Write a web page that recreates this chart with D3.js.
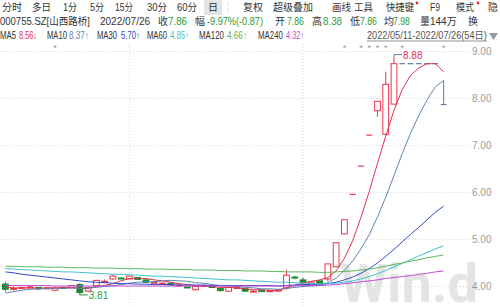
<!DOCTYPE html>
<html>
<head>
<meta charset="utf-8">
<script src="https://cdn.jsdelivr.net/npm/d3@7"></script>
<style>
  body { margin: 0; background: #fff; }
  svg { display: block; font-family: "Liberation Sans", "Noto Sans CJK SC", sans-serif; }
</style>
</head>
<body>
<svg id="chart" width="500" height="307"></svg>
<script>
// daily candles 2022/05/11 - 2022/07/26 (54 days)
const opens  = [4.04,3.94,3.95,3.97,3.97,3.95,3.91,3.96,3.96,4.03, 3.89,4.01,4.09,4.15,4.17,4.15,4.18,4.13,4.07,4.05,
                4.06,4.01,3.98,3.92,4.00,3.99,3.95,3.89,3.96,3.94, 3.88,3.91,3.89,3.89,3.96,4.19,4.13,4.06,4.11,4.15,
                4.41,5.11,5.95,6.55,7.21,7.73,7.23,7.87,8.73,8.73, 8.73,8.73,8.73,7.86];
const highs  = [4.09,3.99,3.98,4.01,3.98,3.98,3.97,3.99,4.02,4.06, 3.98,4.13,4.14,4.24,4.18,4.22,4.19,4.14,4.10,4.08,
                4.07,4.04,4.00,4.00,4.03,4.00,3.96,3.98,3.99,3.95, 3.91,3.92,3.91,3.93,4.34,4.22,4.18,4.10,4.12,4.47,
                4.92,5.41,5.95,6.55,7.21,7.93,8.56,8.88,8.73,8.73, 8.73,8.73,8.73,8.38];
const lows   = [3.88,3.90,3.94,3.96,3.91,3.94,3.90,3.95,3.95,3.81, 3.88,4.00,4.07,4.13,4.15,4.14,4.13,4.07,4.06,4.04,
                4.01,4.00,3.96,3.91,3.99,3.96,3.89,3.88,3.95,3.88, 3.87,3.87,3.88,3.88,3.92,4.14,4.07,4.05,4.05,4.10,
                4.40,5.10,5.95,6.55,7.21,7.60,7.20,7.87,8.73,8.73, 8.73,8.73,8.73,7.86];
const closes = [3.93,3.95,3.97,3.98,3.94,3.96,3.96,3.97,4.01,3.86, 3.97,4.12,4.10,4.21,4.16,4.21,4.14,4.08,4.08,4.06,
                4.02,4.02,3.97,3.99,4.01,3.97,3.90,3.97,3.97,3.89, 3.89,3.88,3.90,3.92,4.23,4.18,4.08,4.09,4.06,4.47,
                4.92,5.41,5.95,6.55,7.21,7.93,8.29,8.73,8.73,8.73, 8.73,8.73,8.73,7.86];

// moving averages
const ma5   = [3.97,3.96,3.96,3.96,3.95,3.96,3.96,3.96,3.97,3.95, 3.95,3.99,4.01,4.05,4.11,4.16,4.16,4.16,4.13,4.11,
               4.08,4.05,4.03,4.01,4.00,3.99,3.97,3.97,3.96,3.94, 3.92,3.92,3.91,3.90,3.96,4.02,4.06,4.10,4.13,4.18,
               4.32,4.59,4.96,5.46,6.01,6.61,7.19,7.74,8.18,8.48, 8.64,8.73,8.73,8.56];
const ma10  = [3.85,3.88,3.91,3.93,3.94,3.95,3.95,3.95,3.96,3.95, 3.96,3.97,3.99,4.01,4.03,4.06,4.08,4.09,4.09,4.11,
               4.12,4.11,4.10,4.07,4.06,4.03,4.01,4.00,3.99,3.97, 3.96,3.94,3.94,3.93,3.95,3.97,3.99,4.00,4.01,4.07,
               4.17,4.33,4.53,4.79,5.09,5.47,5.89,6.35,6.82,7.25, 7.63,7.96,8.24,8.37];
const ma30  = [4.30,4.28,4.25,4.23,4.21,4.19,4.17,4.15,4.13,4.11, 4.09,4.08,4.07,4.06,4.05,4.05,4.04,4.04,4.03,4.03,
               4.03,4.02,4.02,4.02,4.02,4.01,4.01,4.01,4.01,4.01, 4.01,4.01,4.01,4.00,4.01,4.02,4.03,4.03,4.03,4.05,
               4.08,4.13,4.19,4.27,4.37,4.49,4.63,4.78,4.94,5.10, 5.25,5.41,5.57,5.70];
const ma60  = [4.37,4.36,4.35,4.34,4.33,4.32,4.31,4.30,4.30,4.29, 4.28,4.27,4.26,4.25,4.25,4.24,4.23,4.22,4.21,4.21,
               4.20,4.19,4.18,4.17,4.16,4.15,4.14,4.13,4.13,4.12, 4.11,4.10,4.09,4.08,4.08,4.07,4.06,4.05,4.04,4.05,
               4.06,4.08,4.11,4.15,4.20,4.26,4.33,4.41,4.48,4.56, 4.64,4.71,4.79,4.85];
const ma120 = [4.42,4.42,4.41,4.41,4.41,4.40,4.40,4.40,4.39,4.39, 4.39,4.38,4.38,4.38,4.37,4.37,4.37,4.36,4.36,4.36,
               4.35,4.35,4.35,4.34,4.34,4.34,4.33,4.33,4.33,4.32, 4.32,4.32,4.31,4.31,4.30,4.30,4.30,4.30,4.29,4.29,
               4.30,4.31,4.32,4.34,4.36,4.39,4.42,4.46,4.49,4.53, 4.56,4.60,4.63,4.66];
const ma240 = [4.01,4.01,4.01,4.01,4.01,4.01,4.00,4.00,4.00,4.00, 4.00,4.00,4.00,4.00,4.00,4.00,4.00,4.00,4.00,4.00,
               4.00,4.00,4.00,4.00,4.00,4.00,4.00,4.00,4.00,4.00, 4.00,4.00,4.00,4.00,4.00,4.00,4.01,4.01,4.01,4.02,
               4.03,4.05,4.07,4.09,4.11,4.13,4.16,4.18,4.20,4.22, 4.25,4.27,4.30,4.32];

const priceTicks = [4, 5, 6, 7, 8, 9];
const monthStarts = [15, 36];          // 06/01, 07/01
const eventDays = [6, 41, 43, 44, 45, 46, 48, 53];

const upColor = '#e8344e', downColor = '#1b8a30', flatColor = '#5d7f9e', green = '#2e9b3a';
const maLines = [
  { values: ma5,   color: '#e3304c' },
  { values: ma10,  color: '#5f87ae' },
  { values: ma30,  color: '#3448c8' },
  { values: ma60,  color: '#3ec3d0' },
  { values: ma120, color: '#5cb85c' },
  { values: ma240, color: '#c44ad8' }
];

const svg = d3.select('#chart');
const n = closes.length;
const x = d3.scaleBand().domain(d3.range(n)).range([0, 449]).padding(0.3);
const y = d3.scaleLinear().domain([4, 9]).range([286, 51]);
const cx = i => x(i) + x.bandwidth() / 2;

// squeeze a text horizontally so it fits a given width
function fit(el, px, py, w) {
  const len = el.node().getComputedTextLength();
  el.attr('transform', `translate(${px},${py}) scale(${Math.min(1, w / len)},1)`);
  return el;
}

// ---- header ----  [text, x, width, colour]
const head = svg.append('g').style('font-size', '10px').attr('fill', '#333');
function label(row, [t, px, w, c]) {
  const el = head.append('text').attr('fill', c || '#333').text(t);
  return fit(el, px, row, w);
}
head.append('rect').attr('x', 204).attr('y', 0).attr('width', 18).attr('height', 15).attr('fill', '#e4e4e4');
[['分时', 2, 20], ['多日', 32, 19], ['1分', 63, 14], ['5分', 90, 14], ['15分', 115, 18], ['30分', 147, 20],
 ['60分', 177, 20], ['日', 208, 10], ['复权', 243, 20], ['超级叠加', 273, 42], ['画线', 332, 19], ['工具', 354, 19],
 ['快捷键', 386, 28], ['F9', 430, 10], ['模式', 456, 18], ['隐', 488, 10]]
  .forEach(d => label(11, d));
[1.5, 4.5, 7.5, 10.5].forEach(py => head.append('rect').attr('x', 227.5).attr('y', py + 1).attr('width', 1).attr('height', 1).attr('fill', '#bbb'));
[417, 478].forEach(px => head.append('circle').attr('cx', px).attr('cy', 3).attr('r', 1.4).attr('fill', '#e03030'));

[['000755.SZ[山西路桥]', 0, 90], ['2022/07/26', 100, 52], ['收', 158, 10], ['7.86', 168, 19, green],
 ['幅', 195, 10], ['-9.97%(-0.87)', 207, 56, green], ['开', 275, 10], ['7.86', 287, 17, green],
 ['高', 312, 10], ['8.38', 323, 19, green], ['低', 350, 10], ['7.86', 360, 17, green],
 ['均', 384, 10], ['7.98', 393, 17, green], ['量144万', 420, 37], ['换', 468, 10]]
  .forEach(d => label(25, d));

[['MA5', 0, 16], ['8.56↓', 19, 18, maLines[0].color],
 ['MA10', 47, 20], ['8.37↑', 69, 20, maLines[1].color],
 ['MA30', 97, 20], ['5.70↑', 121, 19, maLines[2].color],
 ['MA60', 147, 20], ['4.85↑', 170, 19, maLines[3].color],
 ['MA120', 199, 25], ['4.66↑', 227, 20, maLines[4].color],
 ['MA240', 258, 25], ['4.32↑', 286, 18, maLines[5].color],
 ['2022/05/11-2022/07/26(54日)', 367, 120, '#555']]
  .forEach(d => label(39, d));
head.append('line').attr('x1', 367).attr('x2', 487).attr('y1', 41).attr('y2', 41).attr('stroke', '#777').attr('stroke-width', 0.8);
head.append('path').attr('d', 'M489,33 L498,33 L493.5,40 Z').attr('fill', '#999');

// ---- grid ----
const grid = svg.append('g').attr('transform', 'translate(470,0)')
  .call(d3.axisLeft(y).tickValues(priceTicks).tickSize(470).tickFormat(''));
grid.select('.domain').remove();
grid.selectAll('line').attr('stroke', '#d6d6d6').attr('stroke-dasharray', '1,2');

svg.append('g').selectAll('line').data(monthStarts).enter().append('line')
  .attr('x1', cx).attr('x2', cx).attr('y1', 44).attr('y2', 307)
  .attr('stroke', '#d6d6d6').attr('stroke-dasharray', '1,2');

// watermark
fit(svg.append('text').attr('fill', '#e4e4e4')
  .style('font-family', 'Roboto, sans-serif').style('font-size', '54px').style('font-weight', 'bold')
  .text('Win.d'), 340, 302, 154);

const axis = svg.append('g').attr('transform', 'translate(470,0)')
  .call(d3.axisRight(y).tickValues(priceTicks).tickSize(0).tickPadding(2).tickFormat(d3.format('.2f')));
axis.select('.domain').remove();
axis.attr('font-family', null).attr('font-size', null);
axis.selectAll('text').attr('fill', '#9a9a9a').style('font-size', '10px');

// event markers
svg.append('g').selectAll('text').data(eventDays).enter().append('text')
  .attr('x', cx).attr('y', 51).attr('text-anchor', 'middle')
  .attr('fill', '#999').style('font-size', '9px').text('*');

// ---- candles ----
function colorOf(i) {
  if (closes[i] > opens[i]) return upColor;
  if (closes[i] < opens[i]) return downColor;
  return (i > 0 && closes[i] > closes[i - 1]) ? upColor : flatColor;
}
const days = d3.range(n);
const cg = svg.append('g');
cg.selectAll('line.wick').data(days).enter().append('line')
  .attr('x1', cx).attr('x2', cx)
  .attr('y1', i => y(highs[i])).attr('y2', i => y(lows[i]))
  .attr('stroke', colorOf).attr('stroke-width', 1);
cg.selectAll('rect').data(days.filter(i => opens[i] !== closes[i])).enter().append('rect')
  .attr('x', i => x(i)).attr('width', x.bandwidth())
  .attr('y', i => y(Math.max(opens[i], closes[i])))
  .attr('height', i => Math.max(1, Math.abs(y(opens[i]) - y(closes[i]))))
  .attr('fill', i => closes[i] > opens[i] ? '#fff' : downColor)
  .attr('stroke', colorOf).attr('stroke-width', 1);
cg.selectAll('line.flat').data(days.filter(i => opens[i] === closes[i])).enter().append('line')
  .attr('x1', i => x(i)).attr('x2', i => x(i) + x.bandwidth())
  .attr('y1', i => y(closes[i])).attr('y2', i => y(closes[i]))
  .attr('stroke', colorOf).attr('stroke-width', 1.2);

// ---- moving averages ----
const line = d3.line().x((d, i) => cx(i)).y(d => y(d));
svg.append('g').selectAll('path').data(maLines).enter().append('path')
  .attr('d', d => line(d.values)).attr('fill', 'none')
  .attr('stroke', d => d.color).attr('stroke-width', 1);

// ---- high / low labels ----
const hi = d3.maxIndex(highs), lo = d3.minIndex(lows);
svg.append('path').attr('d', `M${cx(hi)},${y(highs[hi])} V${y(highs[hi]) - 2} H${cx(hi) + 8}`)
  .attr('fill', 'none').attr('stroke', flatColor);
svg.append('text').attr('x', cx(hi) + 9).attr('y', y(highs[hi]) + 2).attr('fill', upColor)
  .style('font-size', '10px').text(highs[hi].toFixed(2));
svg.append('path').attr('d', `M${cx(lo)},${y(lows[lo])} H${cx(lo) + 8}`)
  .attr('fill', 'none').attr('stroke', green);
svg.append('text').attr('x', cx(lo) + 9).attr('y', y(lows[lo]) + 4).attr('fill', green)
  .style('font-size', '10px').text(lows[lo].toFixed(2));
</script>
</body>
</html>
